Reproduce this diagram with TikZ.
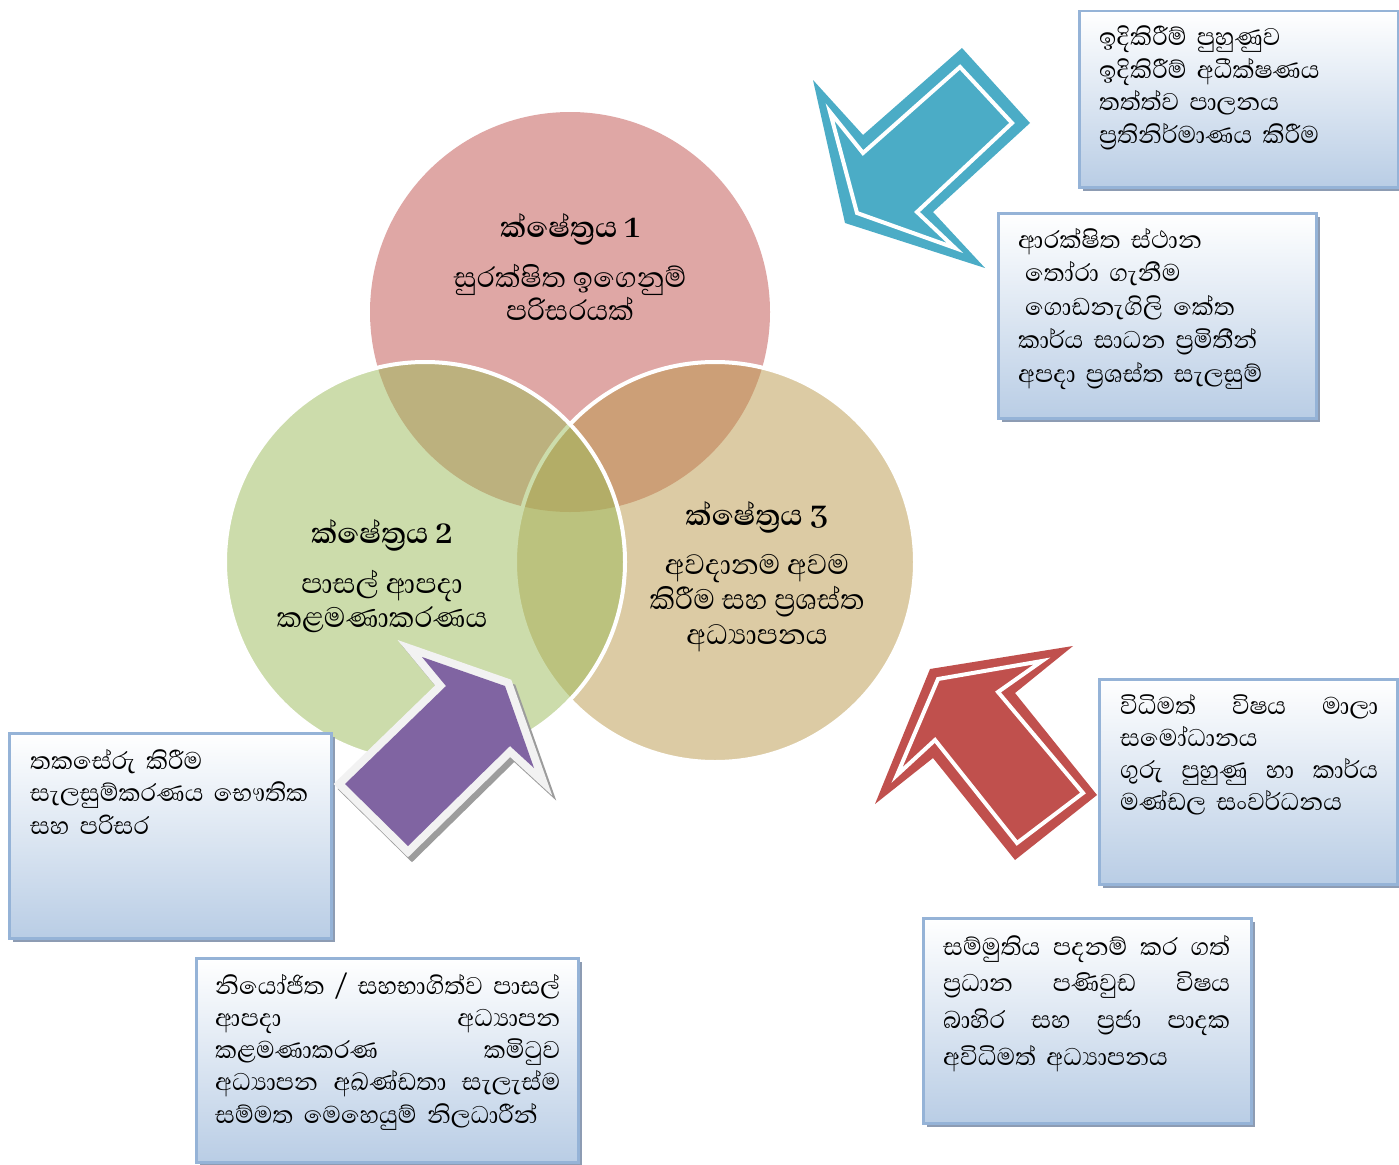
\documentclass[tikz,border=0pt]{standalone}
\usepackage{fontspec}
\usetikzlibrary{shadows}
\newfontfamily\sinhfont[Script=Sinhala]{Abhaya Libre}
\definecolor{pinkC}{HTML}{C0504D}
\definecolor{greenC}{HTML}{9BBB59}
\definecolor{tanC}{HTML}{BB994B}
\definecolor{blueA}{HTML}{4BACC6}
\definecolor{redA}{HTML}{C0504D}
\definecolor{purpA}{HTML}{8064A2}
\definecolor{purpEdge}{HTML}{F2F2F2}
\definecolor{purpShadow}{HTML}{9C9C9C}
\definecolor{boxBorder}{HTML}{95B3D7}
\definecolor{boxBottom}{HTML}{B9CDE5}
\definecolor{boxShadow}{HTML}{8D9CB3}
\newcommand\jline[2]{\leavevmode\hbox to #1{#2}}
\newcommand\boxfont[1]{\sinhfont\fontsize{31pt}{#1}\selectfont\lineskiplimit=-60pt\relax}
\tikzset{
  venn/.style={fill=#1, fill opacity=0.5},
  vennedge/.style={draw=white, line width=4pt},
  infobox/.style={draw=boxBorder, line width=2.5pt, top color=white, bottom color=boxBottom,
    drop shadow={shadow xshift=4pt, shadow yshift=-4pt, fill=boxShadow, opacity=1},
    inner sep=0pt, anchor=north west},
  boxtext/.style={anchor=base west, inner sep=0pt, text width=#1, align=left,
    font=\boxfont{32.5pt}},
  circtitle/.style={anchor=base, inner sep=0pt, font=\sinhfont\bfseries\fontsize{37pt}{40pt}\selectfont},
  circbody/.style={anchor=base, inner sep=0pt, font=\sinhfont\fontsize{36pt}{40pt}\selectfont},
  arrowfill/.style={fill=#1, draw=none},
  arrowinline/.style={draw=white, line width=4pt, line join=miter},
}
\begin{document}
\begin{tikzpicture}[x=1pt,y=-1pt]
\useasboundingbox (0,0) rectangle (1399,1164);
\fill[white] (0,0) rectangle (1399,1164);
% circles
\coordinate (C1) at (570,312);
\coordinate (C2) at (425,562);
\coordinate (C3) at (715,562);
\path[venn=pinkC] (C1) circle[radius=200pt];
\path[venn=tanC, vennedge] (C3) circle[radius=200pt];
\path[venn=greenC, vennedge] (C2) circle[radius=200pt];
% circle texts
\node[circtitle] (c1t) at (570,237) {ක්ෂේත්^^^^200dරය 1};
\node[circbody] (c1a) at (570,287) {සුරක්ෂිත ඉගෙනුම්};
\node[circbody] (c1b) at (570,320) {පරිසරයක්};
\node[circtitle] (c2t) at (382,543) {ක්ෂේත්^^^^200dරය 2};
\node[circbody] (c2a) at (382,593) {පාසල් ආපදා};
\node[circbody] (c2b) at (382,627) {කළමණාකරණය};
\node[circtitle] (c3t) at (757,525) {ක්ෂේත්^^^^200dරය 3};
\node[circbody] (c3a) at (757,574) {අවදානම අවම};
\node[circbody] (c3b) at (757,609) {කිරීම සහ ප්^^^^200dරශස්ත};
\node[circbody] (c3c) at (757,644) {අධ්^^^^200dයාපනය};
% boxes
\node[infobox, minimum width=319pt, minimum height=176pt] (bA) at (1078,10) {};
\node[infobox, minimum width=318pt, minimum height=205pt] (bB) at (997,212) {};
\node[infobox, minimum width=298pt, minimum height=205pt] (bC) at (1098,678) {};
\node[infobox, minimum width=328pt, minimum height=205pt] (bD) at (922,917) {};
\node[infobox, minimum width=322pt, minimum height=205pt] (bE) at (8,732) {};
\node[infobox, minimum width=382pt, minimum height=204pt] (bF) at (195,957) {};
% box texts
\node[boxtext=290pt] (tA) at (1099,46) {ඉදිකිරීම් පුහුණුව\\ඉදිකිරීම් අධීක්ෂණය\\තත්ත්ව පාලනය\\ප්^^^^200dරතිනිර්මාණය කිරීම};
\node[boxtext=290pt, font=\boxfont{33.5pt}] (tB) at (1018,248) {ආරක්ෂිත ස්ථාන\\\hspace*{7pt}තෝරා ගැනීම\\\hspace*{7pt}ගොඩනැගිලි කේත\\කාර්ය සාධන ප්^^^^200dරමිතීන්\\අපදා ප්^^^^200dරශස්ත සැලසුම්};
\node[boxtext=258pt, font=\boxfont{32pt}] (tC) at (1120,714) {\jline{258pt}{විධිමත්\hfill විෂය\hfill මාලා}\\සමෝධානය\\\jline{258pt}{ගුරු\hfill පුහුණු\hfill හා\hfill කාර්ය}\\මණ්ඩල සංවර්ධනය};
\node[boxtext=287pt, font=\boxfont{36.7pt}] (tD) at (943,955) {\jline{287pt}{සම්මුතිය\hfill පදනම්\hfill කර\hfill ගත්}\\\jline{287pt}{ප්^^^^200dරධාන\hfill පණිවුඩ\hfill විෂය}\\\jline{287pt}{බාහිර\hfill සහ\hfill ප්^^^^200dරජා\hfill පාදක}\\අවිධිමත් අධ්^^^^200dයාපනය};
\node[boxtext=278pt] (tE) at (30,769) {තකසේරු කිරීම\\\jline{278pt}{සැලසුම්කරණය\hfill භෞතික}\\සහ පරිසර};
\node[boxtext=345pt, font=\boxfont{32.3pt}] (tF) at (215,994) {\jline{345pt}{නියෝජිත\hfill /\hfill සහභාගිත්ව\hfill පාසල්}\\\jline{345pt}{ආපදා\hfill අධ්^^^^200dයාපන}\\\jline{345pt}{කළමණාකරණ\hfill කමිටුව}\\\jline{345pt}{අධ්^^^^200dයාපන\hfill අඛණ්ඩතා\hfill සැලැස්ම}\\සම්මත මෙහෙයුම් නිලධාරීන්};
% blue arrow
\path[arrowfill=blueA] (813,80) -- (863,135) -- (962,48) -- (1030,123) -- (933,212) -- (985,268) -- (845,223) -- cycle;
\draw[arrowinline] (830,112) -- (863,153) -- (960,67) -- (1012,123) -- (917,212) -- (955,248) -- (857,213) -- cycle;
% red arrow
\path[arrowfill=redA] (875,804) -- (930,669) -- (1073,646) -- (1015,693) -- (1097,795) -- (1015,860) -- (933,758) -- cycle;
\draw[arrowinline] (897,775) -- (938,679) -- (1042,661) -- (998,692) -- (1083,793) -- (1017,843) -- (935,740) -- cycle;
% purple arrow
\begin{scope}[shift={(4,5)}]
\path[fill=purpShadow, draw=purpShadow, line width=16pt, line join=miter] (422,657) -- (505,686) -- (534,768) -- (510,746) -- (408,846) -- (345,784) -- (446,686) -- cycle;
\end{scope}
\path[fill=purpEdge, draw=purpEdge, line width=16pt, line join=miter] (422,657) -- (505,686) -- (534,768) -- (510,746) -- (408,846) -- (345,784) -- (446,686) -- cycle;
\path[fill=purpA] (422,657) -- (505,686) -- (534,768) -- (510,746) -- (408,846) -- (345,784) -- (446,686) -- cycle;
\end{tikzpicture}
\end{document}
